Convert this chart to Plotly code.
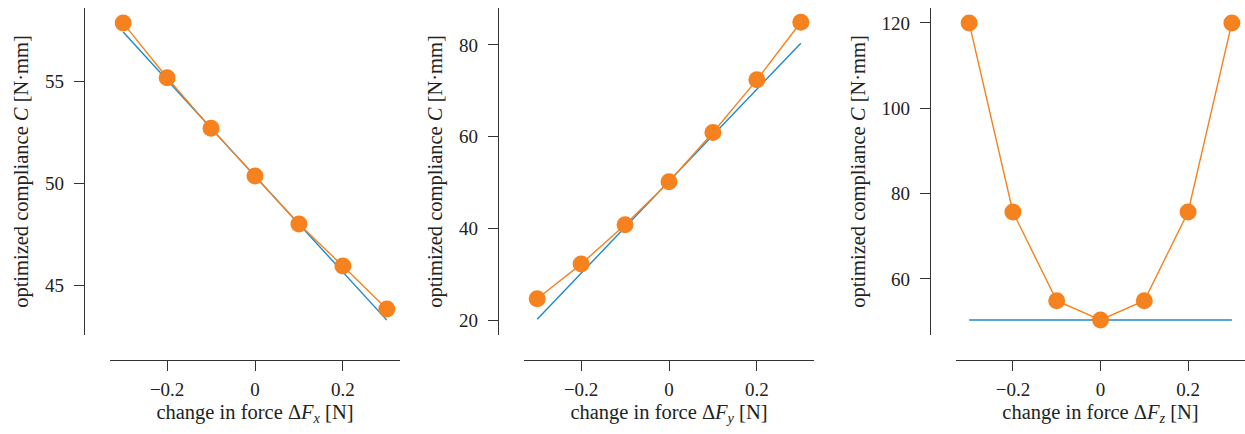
import plotly.graph_objects as go

# force perturbations [N]
delta_f = [-0.3, -0.2, -0.1, 0.0, 0.1, 0.2, 0.3]

# optimized compliance for each perturbation direction [N·mm]
compliance_x = [57.84, 55.16, 52.68, 50.34, 47.99, 45.93, 43.82]
compliance_y = [24.65, 32.2, 40.8, 50.17, 60.9, 72.4, 84.96]
compliance_z = [120.0, 75.7, 54.9, 50.4, 54.9, 75.7, 120.0]

# first-order (linear) prediction, endpoints
linear_f = [-0.3, 0.3]
linear_x = [57.40, 43.28]
linear_y = [20.15, 80.4]
linear_z = [50.4, 50.4]

x_tick_vals = [-0.2, 0, 0.2]
y_ticks = [[45, 50, 55], [20, 40, 60, 80], [60, 80, 100, 120]]
subscripts = ["x", "y", "z"]

W, H = 1245, 434
ORANGE = "#F5821F"
BLUE = "#1E88C8"
AXIS = "#333333"
TEXT = "#222222"
FONT = "Liberation Serif"

# pixel layout of each panel: x-axis extent, y-axis line position
x_spans = [(110, 400), (524, 814), (956, 1245)]
y_axis_px = [84, 498, 930]
y_ranges = [[42.55, 58.58], [16.73, 88.07], [46.875, 123.5]]
plot_top, plot_bottom, x_axis_y = 8, 335, 360

series = [compliance_x, compliance_y, compliance_z]
linear = [linear_x, linear_y, linear_z]

fig = go.Figure()
for i in range(3):
    xa = "x" if i == 0 else f"x{i + 1}"
    ya = "y" if i == 0 else f"y{i + 1}"
    fig.add_trace(go.Scatter(
        x=linear_f, y=linear[i], mode="lines",
        line=dict(color=BLUE, width=1.4),
        xaxis=xa, yaxis=ya, showlegend=False, cliponaxis=False,
    ))
    fig.add_trace(go.Scatter(
        x=delta_f, y=series[i], mode="lines+markers",
        line=dict(color=ORANGE, width=1.4),
        marker=dict(color=ORANGE, size=17, line=dict(width=0)),
        xaxis=xa, yaxis=ya, showlegend=False, cliponaxis=False,
    ))

    axis_common = dict(
        showline=True, linecolor=AXIS, linewidth=1.3,
        ticks="outside", ticklen=10, tickwidth=1.3, tickcolor=AXIS,
        showgrid=False, zeroline=False, automargin=False,
        tickfont=dict(family=FONT, size=19, color=TEXT),
        title_font=dict(family=FONT, size=20.5, color=TEXT),
    )
    x0, x1 = x_spans[i]
    fig.update_layout(**{
        ("xaxis" if i == 0 else f"xaxis{i + 1}"): dict(
            axis_common,
            domain=[x0 / W, x1 / W],
            range=[-0.33, 0.33],
            anchor="free",
            position=(H - x_axis_y) / H,
            tickvals=x_tick_vals,
            ticklabelstandoff=2,
            title=dict(
                text=f"change in force Δ<i>F</i><sub><i>{subscripts[i]}</i></sub> [N]",
                standoff=5,
            ),
        ),
        ("yaxis" if i == 0 else f"yaxis{i + 1}"): dict(
            axis_common,
            domain=[(H - plot_bottom) / H, (H - plot_top) / H],
            range=y_ranges[i],
            anchor="free",
            position=y_axis_px[i] / W,
            tickvals=y_ticks[i],
            ticklabelstandoff=6,
            title=dict(text="optimized compliance <i>C</i> [N·mm]", standoff=9),
        ),
    })

fig.update_layout(
    width=W, height=H,
    margin=dict(l=0, r=0, t=0, b=0),
    paper_bgcolor="white", plot_bgcolor="white",
    font=dict(family=FONT, color=TEXT),
)

fig.write_html("out.html")
